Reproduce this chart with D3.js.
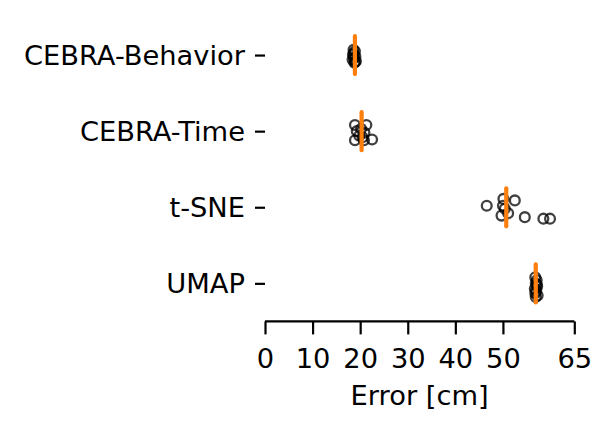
<!DOCTYPE html>
<html>
<head>
<meta charset="utf-8">
<script src="https://cdn.jsdelivr.net/npm/d3@7"></script>
<style>
  html, body { margin: 0; padding: 0; background: #fff; }
  svg { display: block; }
  text { font-family: "DejaVu Sans", sans-serif; fill: #000; }
</style>
</head>
<body>
<svg id="chart" width="612" height="432"></svg>
<script>
// ---- data ----
const categories = ["CEBRA-Behavior", "CEBRA-Time", "t-SNE", "UMAP"];

const behaviorErr    = [18.6, 18.9, 18.5, 19.0, 18.7, 18.4, 19.1, 18.8, 18.6, 18.9];
const behaviorJitter = [-0.07, -0.05, 0.00, 0.02, 0.04, 0.06, 0.08, 0.10, -0.02, 0.09];

const timeErr    = [18.9, 21.3, 19.3, 20.9, 22.5, 18.9, 20.8, 20.2, 19.8, 20.5];
const timeJitter = [-0.08, -0.08, 0.00, 0.02, 0.11, 0.12, 0.12, -0.03, 0.06, 0.08];

const tsneErr    = [46.6, 50.1, 52.5, 49.7, 51.1, 50.4, 54.6, 58.5, 59.9, 50.0];
const tsneJitter = [-0.02, -0.11, -0.09, 0.11, 0.08, 0.02, 0.13, 0.15, 0.15, -0.02];

const umapErr    = [56.8, 57.1, 56.9, 57.2, 56.7, 57.0, 56.8, 57.3, 56.9, 57.1];
const umapJitter = [-0.08, -0.04, 0.00, 0.04, 0.07, 0.10, 0.13, 0.16, 0.18, 0.02];

const centerLine = [18.9, 20.3, 50.7, 56.9];

const xTicks = [0, 10, 20, 30, 40, 50, 65];
const xLabel = "Error [cm]";

// ---- layout ----
const svg = d3.select("#chart");
const mLeft = 265, mRight = 574.3, mTop = 17, mBottom = 321.4;
const fontSize = 27.3;
const lw = 2.2;

const x = d3.scaleLinear().domain([0, 65]).range([mLeft, mRight]);
const y = d3.scaleLinear().domain([-0.5, 3.5]).range([mTop, mBottom]);

const series = [
  [behaviorErr, behaviorJitter],
  [timeErr, timeJitter],
  [tsneErr, tsneJitter],
  [umapErr, umapJitter]
];

// points
series.forEach(([vals, jit], i) => {
  svg.append("g").selectAll("circle")
    .data(vals.map((v, k) => ({ v, j: jit[k] })))
    .join("circle")
    .attr("cx", d => x(d.v))
    .attr("cy", d => y(i + d.j))
    .attr("r", 4.9)
    .attr("fill", "none")
    .attr("stroke", "#000")
    .attr("stroke-opacity", 0.75)
    .attr("stroke-width", 2.3);
});

// center lines
svg.append("g").selectAll("line")
  .data(centerLine)
  .join("line")
  .attr("x1", d => x(d)).attr("x2", d => x(d))
  .attr("y1", (d, i) => y(i - 0.25)).attr("y2", (d, i) => y(i + 0.25))
  .attr("stroke", "#ff7f0e")
  .attr("stroke-width", 4.2)
  .attr("stroke-linecap", "round");

// x axis
const xAxis = d3.axisBottom(x).tickValues(xTicks).tickSize(13).tickPadding(0).tickFormat(d3.format("d"));
const gx = svg.append("g").attr("transform", `translate(0,${mBottom})`).call(xAxis);
gx.select(".domain").attr("d", `M${mLeft},0H${mRight}`).attr("stroke", "#000").attr("stroke-width", lw);
gx.selectAll(".tick line").attr("stroke", "#000").attr("stroke-width", lw);
gx.selectAll(".tick text")
  .attr("font-size", fontSize)
  .attr("font-family", "DejaVu Sans")
  .attr("dy", null)
  .attr("y", 368 - mBottom);

svg.append("text")
  .attr("x", (mLeft + mRight) / 2)
  .attr("y", 405)
  .attr("text-anchor", "middle")
  .attr("font-size", fontSize)
  .text(xLabel);

// y axis (ticks only, no spine)
const yAxis = d3.axisLeft(y).tickValues(d3.range(categories.length)).tickSize(10).tickPadding(10)
  .tickFormat(i => categories[i]);
const gy = svg.append("g").attr("transform", `translate(${mLeft},0)`).call(yAxis);
gy.select(".domain").remove();
gy.selectAll(".tick line").attr("stroke", "#000").attr("stroke-width", lw);
gy.selectAll(".tick text")
  .attr("font-size", fontSize)
  .attr("font-family", "DejaVu Sans")
  .attr("dy", "0.35em");
</script>
</body>
</html>
